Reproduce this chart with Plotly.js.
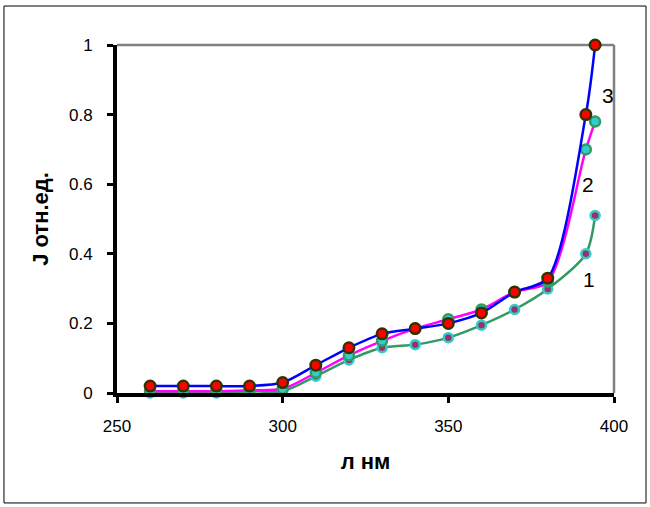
<!DOCTYPE html>
<html>
<head>
<meta charset="utf-8">
<script src="https://cdn.plot.ly/plotly-3.0.1.min.js"></script>
<style>html,body{margin:0;padding:0;background:#fff;}#chart{width:650px;height:507px;}</style>
</head>
<body>
<div id="chart"></div>
<script>
var wavelength = [260, 270, 280, 290, 300, 310, 320, 330, 340, 350, 360, 370, 380, 391.5, 394.3];
var series1 = [0.0, 0.0, 0.0, 0.005, 0.005, 0.048, 0.095, 0.13, 0.139, 0.159, 0.195, 0.24, 0.299, 0.40, 0.51];
var series2 = [0.005, 0.005, 0.005, 0.008, 0.012, 0.058, 0.108, 0.15, 0.185, 0.212, 0.24, 0.29, 0.32, 0.70, 0.78];
var series3 = [0.02, 0.02, 0.02, 0.02, 0.03, 0.08, 0.13, 0.17, 0.185, 0.20, 0.23, 0.29, 0.33, 0.80, 1.0];
var seriesLabels = ['1', '2', '3'];
var xTicks = [250, 300, 350, 400];
var yTicks = [0, 0.2, 0.4, 0.6, 0.8, 1];
var yTickText = ['0', '0.2', '0.4', '0.6', '0.8', '1'];

var font = 'Liberation Sans, Arial, sans-serif';

var traces = [
  {x: wavelength, y: series1, mode: 'lines+markers', line: {color: '#339966', width: 2.5, shape: 'spline', smoothing: 0.8},
   marker: {size: 9, color: '#993366', line: {color: '#33CCCC', width: 2.5}}, cliponaxis: false},
  {x: wavelength, y: series2, mode: 'lines+markers', line: {color: '#FF00FF', width: 2.5, shape: 'spline', smoothing: 0.8},
   marker: {size: 10, color: '#33CCCC', line: {color: '#339966', width: 2.5}}, cliponaxis: false},
  {x: wavelength, y: series3, mode: 'lines+markers', line: {color: '#0000FF', width: 2.5, shape: 'spline', smoothing: 0.8},
   marker: {size: 10.5, color: '#FF0000', line: {color: '#333300', width: 2.5}}, cliponaxis: false}
];

var layout = {
  width: 650, height: 507,
  margin: {l: 117, r: 36, t: 45, b: 114},
  paper_bgcolor: '#fff', plot_bgcolor: '#fff',
  showlegend: false,
  font: {family: font, size: 17, color: '#000'},
  xaxis: {
    range: [250, 400], tickvals: xTicks, ticktext: xTicks.map(String),
    showgrid: false, zeroline: false, showline: true, linecolor: '#000', linewidth: 4,
    ticks: 'outside', ticklen: 6, tickwidth: 3, tickcolor: '#000',
    ticklabelstandoff: 9,
    tickfont: {family: font, size: 17, color: '#000'},
    title: {text: 'л нм', font: {family: font, size: 22, color: '#000', weight: 'bold'}, standoff: 19}
  },
  yaxis: {
    range: [0, 1], tickvals: yTicks, ticktext: yTickText,
    showgrid: false, zeroline: false, showline: true, linecolor: '#000', linewidth: 4,
    ticks: 'outside', ticklen: 6, tickwidth: 3, tickcolor: '#000',
    ticklabelstandoff: 11,
    tickfont: {family: font, size: 17, color: '#000'},
    title: {text: 'J отн.ед.', font: {family: font, size: 22, color: '#000', weight: 'bold'}, standoff: 15}
  },
  shapes: [
    {type: 'line', xref: 'paper', yref: 'paper', x0: 0, x1: 1, y0: 1, y1: 1, line: {color: '#808080', width: 2.5}, layer: 'below'},
    {type: 'line', xref: 'paper', yref: 'paper', x0: 1, x1: 1, y0: 0, y1: 1, line: {color: '#808080', width: 2.5}, layer: 'below'},
    {type: 'rect', xref: 'paper', yref: 'paper', x0: -0.2274, x1: 1.0644, y0: -0.316, y1: 1.112, line: {color: '#000', width: 1}}
  ],
  annotations: [
    {x: 392.4, y: 0.326, xref: 'x', yref: 'y', text: seriesLabels[0], showarrow: false, font: {family: font, size: 21, color: '#000'}},
    {x: 392.3, y: 0.598, xref: 'x', yref: 'y', text: seriesLabels[1], showarrow: false, font: {family: font, size: 21, color: '#000'}},
    {x: 398.05, y: 0.855, xref: 'x', yref: 'y', text: seriesLabels[2], showarrow: false, font: {family: font, size: 21, color: '#000'}}
  ]
};

Plotly.newPlot('chart', traces, layout, {displayModeBar: false, staticPlot: true});
</script>
</body>
</html>
